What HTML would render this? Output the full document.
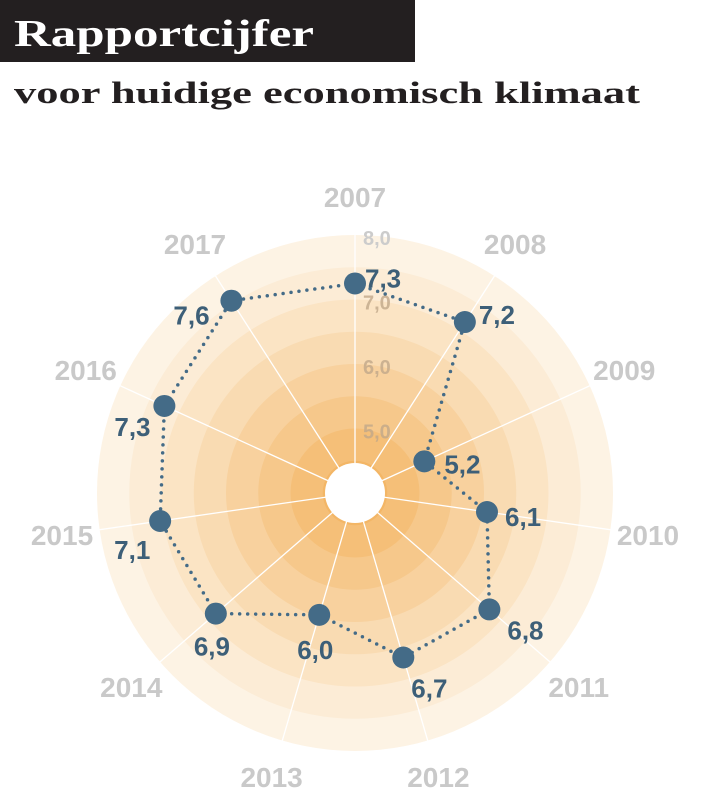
<!DOCTYPE html>
<html><head><meta charset="utf-8"><style>
body{margin:0;background:#fff;width:710px;height:797px;overflow:hidden;font-family:"Liberation Sans",sans-serif}
</style></head><body>
<svg id="chart" width="710" height="797">
<rect x="0" y="0" width="415" height="62" fill="#231f20"/>
<text x="14" y="46" font-size="38" font-weight="bold" fill="#fff" textLength="300" lengthAdjust="spacingAndGlyphs" font-family="Liberation Serif, serif">Rapportcijfer</text>
<text x="14" y="103" font-size="31" font-weight="bold" fill="#231f20" textLength="626" lengthAdjust="spacingAndGlyphs" font-family="Liberation Serif, serif">voor huidige economisch klimaat</text>
<g id="g"></g>
</svg>
<script>
const categories=["2007","2008","2009","2010","2011","2012","2013","2014","2015","2016","2017"];
const values=[7.3,7.2,5.2,6.1,6.8,6.7,6.0,6.9,7.1,7.3,7.6];
const valueLabels=["7,3","7,2","5,2","6,1","6,8","6,7","6,0","6,9","7,1","7,3","7,6"];
const tickValues=[5,6,7,8];
const tickLabels=["5,0","6,0","7,0","8,0"];
const cx=355,cy=493,unit=63.5,minV=4,maxV=8;
const NS="http://www.w3.org/2000/svg";
const g=document.getElementById('g');
function rScale(v){return (v-minV)*unit;}
function ang(i){return i*2*Math.PI/categories.length;}
function pt(i,r){return [cx+r*Math.sin(ang(i)),cy-r*Math.cos(ang(i))];}
function mk(tag,attrs){const e=document.createElementNS(NS,tag);for(const k in attrs)e.setAttribute(k,attrs[k]);g.appendChild(e);return e;}
const ringColors=["#fdf3e4","#fcecd6","#fbe4c4","#f9dbb2","#f8d19e","#f6c88b","#f5bf78","#f3b666"];
const R=258;
for(let k=0;k<8;k++){
  const c=mk('circle',{cx:cx,cy:cy,r:R-k*R/8,fill:ringColors[k]});
  
  
}
categories.forEach((c,i)=>{
  const [x,y]=pt(i,R+20);
  const l=mk('line',{x1:cx,y1:cy,x2:x,y2:y,stroke:"#fff","stroke-width":1.3});
  
  
  const [tx,ty]=pt(i,R+38);
  const t=mk('text',{x:tx,y:ty+10,"text-anchor":"middle","font-size":28,"font-weight":"bold",fill:"#c9c9c9"});
  t.textContent=c;
  
  
});
const hole=mk('circle',{cx:cx,cy:cy,r:30,fill:"#fff"});


tickValues.forEach((v,i)=>{
  const t=mk('text',{x:cx+8,y:cy-R*(v-minV)/(maxV-minV)+10,"font-size":20,"font-weight":"bold",fill:i==3?"#ccc":"#c0a88a","fill-opacity":i==3?1:0.8});
  t.textContent=tickLabels[i];
  
  
});
const pts=values.map((v,i)=>pt(i,rScale(v)));
const poly=mk('polygon',{points:pts.map(p=>p.join(',')).join(' '),fill:"none",stroke:"#446b87","stroke-width":3.5,"stroke-dasharray":"0 8","stroke-linecap":"round"});


const offs=[[10,-4],[14,-6],[20,4],[18,6],[18,22],[8,32],[-22,36],[-22,34],[-46,30],[-50,22],[-58,16]];
pts.forEach((p,i)=>{
  const c=mk('circle',{cx:p[0],cy:p[1],r:11,fill:"#446b87"});
  
  
  const t=mk('text',{x:p[0]+offs[i][0],y:p[1]+offs[i][1]+8,"font-size":26,"font-weight":"bold",fill:"#3d5f78"});
  t.textContent=valueLabels[i];
  
  
});
</script>
</body></html>
